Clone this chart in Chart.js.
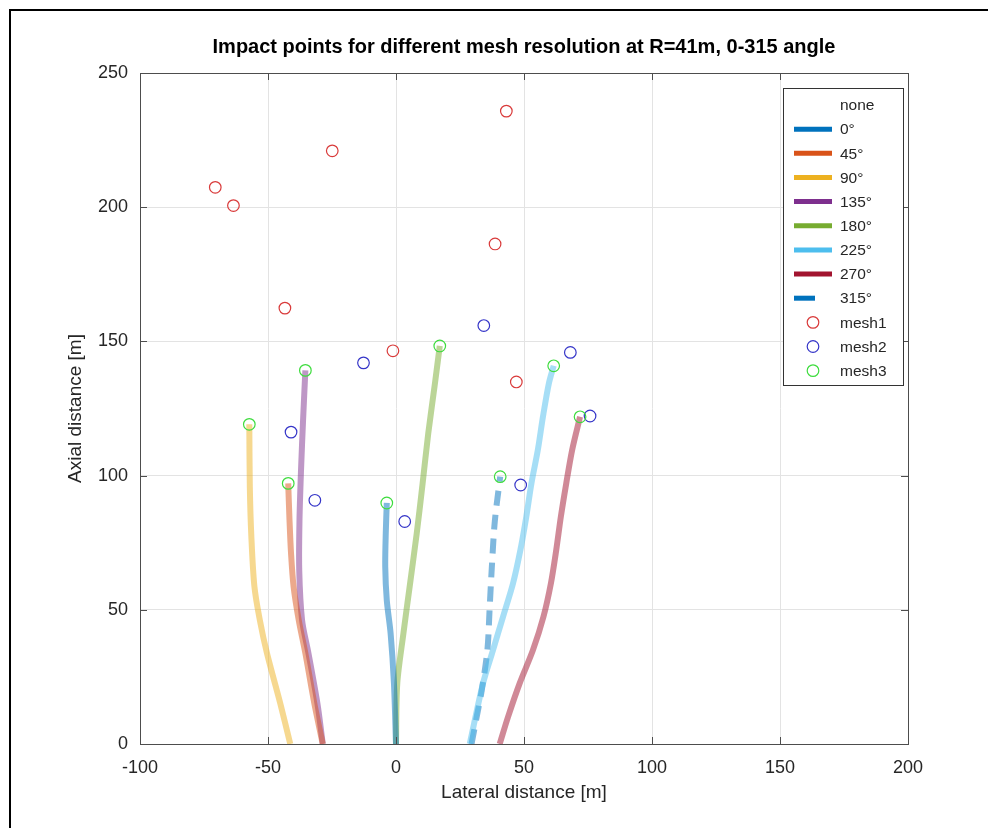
<!DOCTYPE html>
<html>
<head>
<meta charset="utf-8">
<script src="https://cdn.jsdelivr.net/npm/chart.js@4/dist/chart.umd.min.js"></script>
<style>
  html, body { margin: 0; padding: 0; background: #fff; }
  canvas { display: block; }
</style>
</head>
<body>
<canvas id="impactChart" width="988" height="828"></canvas>
<script>
// axis ticks
const xTicks = [-100, -50, 0, 50, 100, 150, 200];
const yTicks = [0, 50, 100, 150, 200, 250];
const chartTitle = 'Impact points for different mesh resolution at R=41m, 0-315 angle';

// trajectories per launch angle, [lateral, axial] pairs
const angleLabels = ['0°', '45°', '90°', '135°', '180°', '225°', '270°', '315°'];
const traj0 = [[0, 0], [-0.8, 22.6], [-2.1, 41.2], [-3.6, 53.6], [-4.2, 66], [-4.0, 78.5], [-3.6, 89.8]];
const traj45 = [[-28.6, 0], [-31.9, 15.1], [-35.4, 33.8], [-38.0, 46.2], [-40.0, 58.6], [-41.0, 71], [-41.6, 83.4], [-42.1, 97.1]];
const traj90 = [[-41.3, 0], [-45.2, 15.1], [-50.4, 33.8], [-53.2, 46.2], [-55.3, 58.6], [-56.5, 77.2], [-57.1, 95.8], [-57.3, 119.1]];
const traj135 = [[-28.6, 0], [-30.7, 15.1], [-34.2, 33.8], [-36.7, 46.2], [-37.8, 64.8], [-37.7, 83.4], [-37.1, 102], [-36.3, 120.7], [-35.4, 139.2]];
const traj180 = [[0, 0], [0.5, 22.6], [2.9, 41.2], [5.5, 59.8], [8.1, 78.5], [10.4, 97.1], [12.6, 115.7], [15.2, 134.3], [17.1, 148.3]];
const traj225 = [[28.8, 0], [34.0, 22.6], [37.9, 35], [41.8, 47.4], [45.7, 59.8], [48.6, 72.3], [50.9, 84.7], [52.9, 97.1], [55.4, 109.5], [57.4, 121.9], [59.7, 134.3], [61.6, 140.9]];
const traj270 = [[40.5, 0], [43.8, 10.2], [48.3, 22.6], [53.5, 35], [57.6, 47.4], [60.5, 59.8], [62.6, 72.3], [64.4, 84.7], [66.5, 97.1], [68.8, 109.5], [71.9, 121.9]];
const traj315 = [[29.5, 0], [31.5, 10], [33.4, 19.5], [35.7, 35], [36.6, 51], [37.5, 67], [38.6, 83], [40.7, 99.6]];

// impact points per mesh
const mesh1X = [43.1, -24.9, -70.6, -63.5, 38.7, -43.4, -1.2, 47.0];
const mesh1Y = [235.8, 221.0, 207.4, 200.6, 186.3, 162.4, 146.5, 134.9];
const mesh2X = [34.3, -12.7, 68.1, -41.0, 75.8, -31.7, 48.7, 3.4];
const mesh2Y = [155.9, 142.0, 145.9, 116.2, 122.2, 90.8, 96.5, 82.9];
const mesh3X = [17.1, 61.6, -35.4, 71.9, -57.3, 40.7, -42.1, -3.6];
const mesh3Y = [148.3, 140.9, 139.2, 121.9, 119.1, 99.6, 97.1, 89.8];

const trajs = [traj0, traj45, traj90, traj135, traj180, traj225, traj270, traj315];
const lineColors = ['#0072BD', '#D95319', '#EDB120', '#7E2F8E', '#77AC30', '#4DBEEE', '#A2142F', '#0072BD'];
const meshColors = ['#d93a3a', '#3535c8', '#3ddc3d'];
const meshNames = ['mesh1', 'mesh2', 'mesh3'];

function withAlpha(hex, a) {
    const n = parseInt(hex.slice(1), 16);
    return `rgba(${(n >> 16) & 255},${(n >> 8) & 255},${n & 255},${a})`;
}

const datasets = [];
trajs.forEach((t, i) => {
    datasets.push({
        label: angleLabels[i],
        data: t.map(p => ({x: p[0], y: p[1]})),
        showLine: true,
        borderColor: withAlpha(lineColors[i], 0.5),
        borderWidth: 6,
        borderDash: i === 7 ? [15, 9] : [],
        borderCapStyle: 'butt',
        tension: 0.3,
        pointRadius: 0,
        order: 2
    });
});
[[mesh1X, mesh1Y], [mesh2X, mesh2Y], [mesh3X, mesh3Y]].forEach((m, i) => {
    datasets.push({
        label: meshNames[i],
        data: m[0].map((x, k) => ({x: x, y: m[1][k]})),
        showLine: false,
        pointStyle: 'circle',
        pointRadius: 5.8,
        pointBorderWidth: 1.2,
        pointBorderColor: meshColors[i],
        pointBackgroundColor: 'rgba(0,0,0,0)',
        order: 1 - i * 0.1
    });
});

const FONT = "'Liberation Sans', Arial, sans-serif";

// figure frame, title, axes box, inward ticks and legend (matlab style)
const framePlugin = {
    id: 'frame',
    beforeDraw(chart) {
        const ctx = chart.ctx;
        ctx.save();
        ctx.fillStyle = '#fff';
        ctx.fillRect(0, 0, chart.width, chart.height);
        ctx.strokeStyle = '#000';
        ctx.lineWidth = 2;
        ctx.beginPath();
        ctx.moveTo(10, chart.height);
        ctx.lineTo(10, 10);
        ctx.lineTo(chart.width, 10);
        ctx.stroke();
        // title centred over the axes
        const a = chart.chartArea;
        ctx.fillStyle = '#000';
        ctx.font = 'bold 20px ' + FONT;
        ctx.textAlign = 'center';
        ctx.textBaseline = 'middle';
        ctx.fillText(chartTitle, (a.left + a.right) / 2, 47);
        ctx.restore();
    },
    afterDatasetsDraw(chart) {
        const {ctx, chartArea: a, scales} = chart;
        ctx.save();
        ctx.strokeStyle = '#4d4d4d';
        ctx.lineWidth = 1;
        ctx.strokeRect(Math.round(a.left) + 0.5, Math.round(a.top) + 0.5, Math.round(a.right - a.left), Math.round(a.bottom - a.top));
        ctx.beginPath();
        xTicks.forEach(v => {
            const px = Math.round(scales.x.getPixelForValue(v)) + 0.5;
            ctx.moveTo(px, a.bottom); ctx.lineTo(px, a.bottom - 7);
            ctx.moveTo(px, a.top); ctx.lineTo(px, a.top + 7);
        });
        yTicks.forEach(v => {
            const py = Math.round(scales.y.getPixelForValue(v)) + 0.5;
            ctx.moveTo(a.left, py); ctx.lineTo(a.left + 7, py);
            ctx.moveTo(a.right, py); ctx.lineTo(a.right - 7, py);
        });
        ctx.stroke();
        ctx.restore();
    },
    afterDraw(chart) {
        const ctx = chart.ctx;
        const bx = 783, by = 88, bw = 120, bh = 297;
        const rowH = 24.15, firstRow = 105;
        ctx.save();
        ctx.fillStyle = '#fff';
        ctx.fillRect(bx, by, bw, bh);
        ctx.strokeStyle = '#333';
        ctx.lineWidth = 1;
        ctx.strokeRect(bx + 0.5, by + 0.5, bw, bh);
        ctx.font = '15.5px ' + FONT;
        ctx.textBaseline = 'middle';
        const entries = ['none'].concat(angleLabels, meshNames);
        entries.forEach((lab, i) => {
            const y = firstRow + i * rowH;
            ctx.fillStyle = '#262626';
            ctx.fillText(lab, 840, y + 1);
            if (i >= 1 && i <= 8) {
                ctx.strokeStyle = lineColors[i - 1];
                ctx.lineWidth = 5;
                ctx.beginPath();
                ctx.moveTo(794, y);
                ctx.lineTo(i === 8 ? 815 : 832, y);
                ctx.stroke();
            } else if (i > 8) {
                ctx.strokeStyle = meshColors[i - 9];
                ctx.lineWidth = 1.2;
                ctx.beginPath();
                ctx.arc(813, y, 5.8, 0, Math.PI * 2);
                ctx.stroke();
            }
        });
        ctx.restore();
    }
};

new Chart(document.getElementById('impactChart'), {
    type: 'scatter',
    data: { datasets: datasets },
    plugins: [framePlugin],
    options: {
        responsive: false,
        animation: false,
        layout: { padding: { left: 0, right: 80, top: 73, bottom: 0 } },
        plugins: {
            legend: { display: false },
            tooltip: { enabled: false },
            title: { display: false }
        },
        scales: {
            x: {
                type: 'linear',
                min: -100, max: 200,
                afterFit(scale) { scale.height = 84; },
                afterBuildTicks(scale) { scale.ticks = xTicks.map(v => ({value: v})); },
                ticks: { color: '#262626', font: { family: FONT, size: 18 }, padding: 13 },
                grid: { color: '#e3e3e3', drawTicks: false },
                border: { display: false },
                title: {
                    display: true, text: 'Lateral distance [m]', color: '#262626',
                    font: { family: FONT, size: 19 }, padding: { top: 0, bottom: 23.6 }
                }
            },
            y: {
                type: 'linear',
                min: 0, max: 250,
                afterFit(scale) { scale.width = 140; },
                afterBuildTicks(scale) { scale.ticks = yTicks.map(v => ({value: v})); },
                ticks: { color: '#262626', font: { family: FONT, size: 18 }, padding: 12 },
                grid: { color: '#e3e3e3', drawTicks: false },
                border: { display: false },
                title: {
                    display: true, text: 'Axial distance [m]', color: '#262626',
                    font: { family: FONT, size: 19 }, padding: { top: 64.6, bottom: 0 }
                }
            }
        }
    }
});
</script>
</body>
</html>
